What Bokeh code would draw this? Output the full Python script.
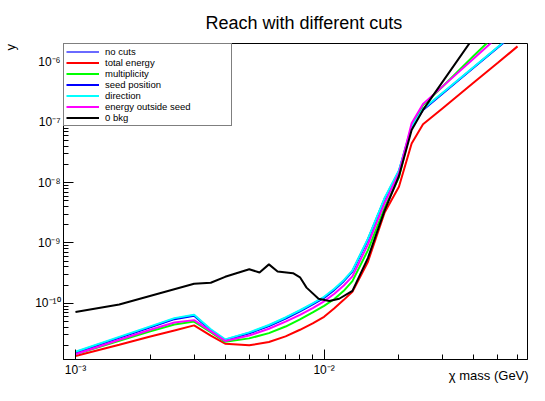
import math
from bokeh.plotting import figure
from bokeh.models import (Range1d, FixedTicker, CustomJSTickFormatter,
                          Legend, LegendItem)
from bokeh.embed import file_html
from bokeh.resources import INLINE

# ---------------- data ----------------
mass = [0.001, 0.0015, 0.002, 0.0025, 0.003, 0.0035, 0.004, 0.005, 0.006, 0.007,
        0.008, 0.009, 0.01, 0.011, 0.012, 0.013, 0.015, 0.0175, 0.02, 0.0225,
        0.025, 0.03, 0.04, 0.05, 0.06]

no_cuts = [1.54e-11, 2.72e-11, 4.07e-11, 5.57e-11, 6.33e-11, 3.64e-11, 2.48e-11,
           3.24e-11, 4.28e-11, 5.71e-11, 7.53e-11, 9.79e-11, 1.25e-10, 1.70e-10,
           2.38e-10, 3.43e-10, 1.15e-9, 5.40e-9, 1.56e-8, 8.45e-8, 1.63e-7,
           3.06e-7, 8.20e-7, 1.76e-6, 3.30e-6]

total_energy = [1.34e-11, 2.06e-11, 2.81e-11, 3.55e-11, 4.30e-11, 2.90e-11, 2.14e-11,
                2.01e-11, 2.28e-11, 2.83e-11, 3.64e-11, 4.65e-11, 5.96e-11, 8.26e-11,
                1.14e-10, 1.55e-10, 4.85e-10, 3.16e-9, 8.53e-9, 4.46e-8, 9.29e-8,
                1.72e-7, 4.57e-7, 9.70e-7, 1.82e-6]

multiplicity = [1.43e-11, 2.39e-11, 3.44e-11, 4.45e-11, 4.98e-11, 3.32e-11, 2.30e-11,
                2.62e-11, 3.20e-11, 4.12e-11, 5.43e-11, 7.05e-11, 9.09e-11, 1.18e-10,
                1.61e-10, 2.33e-10, 7.54e-10, 3.80e-9, 1.23e-8, 8.63e-8, 1.94e-7,
                3.93e-7, 1.27e-6, 3.09e-6, 6.43e-6]

seed_position = [1.51e-11, 2.67e-11, 3.99e-11, 5.46e-11, 6.21e-11, 3.57e-11, 2.43e-11,
                 3.18e-11, 4.20e-11, 5.60e-11, 7.38e-11, 9.60e-11, 1.23e-10, 1.67e-10,
                 2.33e-10, 3.36e-10, 1.13e-9, 5.29e-9, 1.53e-8, 8.32e-8, 1.61e-7,
                 3.02e-7, 8.09e-7, 1.74e-6, 3.26e-6]

direction = [1.57e-11, 2.78e-11, 4.15e-11, 5.68e-11, 6.46e-11, 3.71e-11, 2.52e-11,
             3.30e-11, 4.37e-11, 5.82e-11, 7.67e-11, 9.98e-11, 1.28e-10, 1.74e-10,
             2.42e-10, 3.49e-10, 1.17e-9, 5.50e-9, 1.59e-8, 8.60e-8, 1.66e-7,
             3.10e-7, 8.30e-7, 1.78e-6, 3.34e-6]

energy_outside_seed = [1.43e-11, 2.48e-11, 3.64e-11, 4.80e-11, 5.26e-11, 3.45e-11, 2.38e-11,
                       2.92e-11, 3.78e-11, 4.98e-11, 6.43e-11, 8.32e-11, 1.08e-10, 1.44e-10,
                       1.97e-10, 2.80e-10, 9.40e-10, 4.56e-9, 1.43e-8, 9.64e-8, 2.01e-7,
                       3.95e-7, 1.15e-6, 2.62e-6, 5.18e-6]

bkg0_mass = [0.001, 0.0015, 0.003, 0.0035, 0.004, 0.005, 0.0055, 0.006, 0.0065, 0.0075,
             0.008, 0.0085, 0.0095, 0.0105, 0.0115, 0.013, 0.015, 0.0175, 0.02, 0.0225,
             0.025, 0.03, 0.04]
bkg0 = [7.18e-11, 9.57e-11, 2.11e-10, 2.19e-10, 2.75e-10, 3.66e-10, 3.24e-10, 4.42e-10,
        3.37e-10, 3.16e-10, 2.70e-10, 1.82e-10, 1.19e-10, 1.09e-10, 1.19e-10, 1.61e-10,
        5.62e-10, 3.40e-9, 1.28e-8, 7.45e-8, 1.61e-7, 4.74e-7, 2.59e-6]

series_labels = ["no cuts", "total energy", "multiplicity", "seed position",
                 "direction", "energy outside seed", "0 bkg"]
series_colors = ["#6a6aff", "#ff0000", "#00ff00", "#0000ff", "#00ffff", "#ff00ff", "#000000"]

x_major = [1e-3, 1e-2]
y_major = [1e-10, 1e-9, 1e-8, 1e-7, 1e-6]

X_START, X_END = 0.000895, 0.0658
Y_START, Y_END = 1.17e-11, 2.03e-6

X_TITLE = "\u03c7 mass (GeV)"
Y_TITLE = "y"

FONT = "Liberation Sans"

# ---------------- figure ----------------
p = figure(width=529, height=385, x_axis_type="log", y_axis_type="log",
           x_range=Range1d(X_START, X_END), y_range=Range1d(Y_START, Y_END),
           output_backend="svg", toolbar_location=None,
           min_border_left=62, min_border_right=2, min_border_top=42,
           min_border_bottom=26)

p.title.text = "Reach with different cuts"
p.title.align = "left"
p.title.offset = 142
p.title.text_font = FONT
p.title.text_font_size = "18px"
p.title.text_font_style = "normal"
p.title.text_color = "black"
p.title.standoff = 21

p.grid.visible = False
p.outline_line_color = "black"
p.outline_line_width = 1
p.outline_line_alpha = 1.0
p.background_fill_color = "white"
p.border_fill_color = "white"

x_minor = [k * d for d in (1e-3, 1e-2) for k in range(2, 10)]
y_minor = [k * d for d in (1e-11, 1e-10, 1e-9, 1e-8, 1e-7, 1e-6) for k in range(2, 10)]

sup_code = """
const s = {"-": "\u207b", "0": "\u2070", "1": "\u00b9", "2": "\u00b2", "3": "\u00b3",
           "4": "\u2074", "5": "\u2075", "6": "\u2076", "7": "\u2077", "8": "\u2078", "9": "\u2079"};
const e = Math.round(Math.log10(tick));
return "10" + String(e).split("").map((c) => s[c]).join("");
"""

p.xaxis.ticker = FixedTicker(ticks=x_major, minor_ticks=x_minor)
p.yaxis.ticker = FixedTicker(ticks=y_major, minor_ticks=y_minor)
for ax in (p.xaxis[0], p.yaxis[0]):
    ax.formatter = CustomJSTickFormatter(code=sup_code)
    ax.major_tick_in = 10
    ax.major_tick_out = 0
    ax.minor_tick_in = 5
    ax.minor_tick_out = 0
    ax.axis_line_color = "black"
    ax.major_tick_line_color = "black"
    ax.minor_tick_line_color = "black"
    ax.major_label_text_font = FONT
    ax.major_label_text_font_size = "12px"
    ax.major_label_text_color = "black"
    ax.axis_label_text_font = FONT
    ax.axis_label_text_font_size = "13px"
    ax.axis_label_text_font_style = "normal"
    ax.axis_label_text_color = "black"
p.xaxis.major_label_standoff = 3
p.yaxis.major_label_standoff = 3

# x title: centred label, leading no-break spaces shift the visible text so that
# it ends flush with the right end of the axis (as in the reference)
p.xaxis[0].axis_label_align = "center"
p.xaxis[0].axis_label = "\u00a0" * 107 + X_TITLE
p.xaxis[0].axis_label_standoff = -12
# y title at the top end of the axis
p.yaxis[0].axis_label_align = "end"
p.yaxis[0].axis_label = Y_TITLE + "\u00a0" * 2
p.yaxis[0].axis_label_standoff = 14

# ---------------- lines ----------------
all_y = [no_cuts, total_energy, multiplicity, seed_position, direction,
         energy_outside_seed, bkg0]
items = []
for lab, col, ys in zip(series_labels, series_colors, all_y):
    xs = bkg0_mass if lab == "0 bkg" else mass
    r = p.line(x=xs, y=ys, line_color=col, line_width=2)
    items.append(LegendItem(label=lab, renderers=[r]))

legend = Legend(items=items, location="top_left", margin=0, padding=2, spacing=0,
                glyph_width=33, glyph_height=11, label_height=11, label_width=124,
                label_standoff=6, label_text_font=FONT, label_text_font_size="9.5px",
                label_text_color="black", border_line_color="black",
                border_line_width=1, background_fill_color="white",
                background_fill_alpha=1.0)
p.add_layout(legend)

open("out.html", "w").write(file_html(p, INLINE))
